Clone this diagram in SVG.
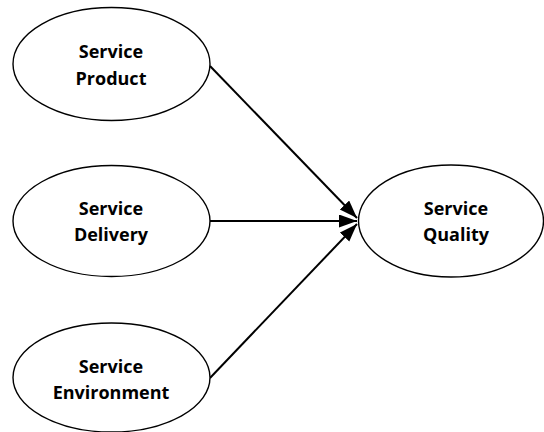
<svg xmlns="http://www.w3.org/2000/svg" width="544" height="432" viewBox="0 0 544 432">
<style>
.node ellipse{fill:#fff;stroke:#000;stroke-width:1.4}
.node text{font-family:"Open Sans","Noto Sans",sans-serif;font-weight:bold;font-size:18px;text-anchor:middle;fill:#000}
.edge{stroke:#000;stroke-width:2;fill:none;marker-end:url(#arr)}
</style>
<defs>
<marker id="arr" markerUnits="userSpaceOnUse" markerWidth="20" markerHeight="14" refX="18" refY="6.5" orient="auto">
<path d="M0,0 L18,6.5 L0,13 Z" fill="#000"/>
</marker>
</defs>
<rect width="544" height="432" fill="#fff"/>
<g id="connectors">
<line class="edge" x1="210" y1="66" x2="357" y2="218"/>
<line class="edge" x1="210" y1="221" x2="357" y2="221"/>
<line class="edge" x1="210" y1="378" x2="357" y2="224"/>
</g>
<g id="service-product" class="node">
<ellipse cx="111.5" cy="64" rx="98.5" ry="56.5"/>
<text x="111" y="58">Service</text>
<text x="111" y="85">Product</text>
</g>
<g id="service-delivery" class="node">
<ellipse cx="111.5" cy="221" rx="98.5" ry="55.5"/>
<text x="111" y="215">Service</text>
<text x="111" y="241">Delivery</text>
</g>
<g id="service-environment" class="node">
<ellipse cx="111.5" cy="377.5" rx="98.5" ry="54.5"/>
<text x="111" y="373">Service</text>
<text x="111" y="399">Environment</text>
</g>
<g id="service-quality" class="node">
<ellipse cx="451" cy="221" rx="92.5" ry="56"/>
<text x="456" y="215">Service</text>
<text x="456" y="241">Quality</text>
</g>
</svg>
